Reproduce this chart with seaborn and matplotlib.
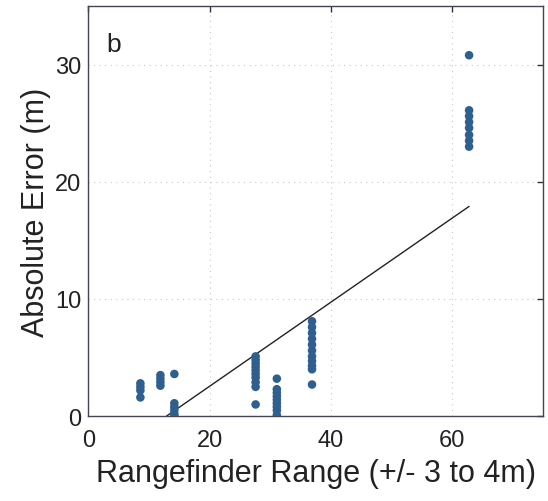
import numpy as np
import pandas as pd
import matplotlib
matplotlib.use('Agg')
import matplotlib.pyplot as plt
import seaborn as sns

# rangefinder range groups and absolute errors
x_8 = [8.6] * 4
y_8 = [2.8, 2.5, 2.2, 1.6]
x_12 = [11.9] * 4
y_12 = [3.5, 3.2, 2.9, 2.6]
x_14 = [14.2] * 6
y_14 = [3.6, 1.1, 0.8, 0.5, 0.2, 0.0]
x_28 = [27.6] * 10
y_28 = [5.1, 4.8, 4.5, 4.2, 3.9, 3.6, 3.3, 2.9, 2.5, 1.0]
x_31 = [31.1] * 9
y_31 = [3.2, 2.3, 2.0, 1.7, 1.4, 1.1, 0.8, 0.5, 0.1]
x_37 = [36.9] * 11
y_37 = [8.1, 7.6, 7.1, 6.6, 6.1, 5.6, 5.1, 4.7, 4.3, 4.0, 2.7]
x_63 = [62.8] * 8
y_63 = [30.8, 26.1, 25.6, 25.1, 24.6, 24.0, 23.5, 23.0]

# fitted line endpoints
line_x = [12.9, 62.8]
line_y = [0.0, 17.9]

df = pd.DataFrame({
    'range': x_8 + x_12 + x_14 + x_28 + x_31 + x_37 + x_63,
    'error': y_8 + y_12 + y_14 + y_28 + y_31 + y_37 + y_63,
})
df_line = pd.DataFrame({'range': line_x, 'error': line_y})

sns.set_style('white')
plt.rcParams['font.family'] = ['Liberation Sans', 'DejaVu Sans']

fig = plt.figure(figsize=(5.48, 5.02), dpi=100)
ax = fig.add_axes([0.161, 0.169, 0.830, 0.817])

sns.scatterplot(data=df, x='range', y='error', ax=ax, color='#2f5f8f',
                s=38, edgecolor='none', zorder=3)
sns.lineplot(data=df_line, x='range', y='error', ax=ax, color='#222222',
             linewidth=1.0, zorder=2)

ax.set_xlim(0, 75)
ax.set_ylim(0, 35)
ax.set_xticks([0, 20, 40, 60])
ax.set_yticks([0, 10, 20, 30])
ax.grid(True, linestyle=(0, (1, 4)), color='#c8c8c8', linewidth=0.8)
ax.tick_params(direction='in', length=4, width=1, top=True, right=True,
               labelsize=17, colors='#333333', labelcolor='#222222')
ax.tick_params(axis='x', pad=9)
ax.tick_params(axis='y', pad=5)
for sp in ax.spines.values():
    sp.set_color('#444455')
    sp.set_linewidth(1.0)

ax.set_xlabel('Rangefinder Range (+/- 3 to 4m)', fontsize=22, color='#222222', labelpad=5)
ax.set_ylabel('Absolute Error (m)', fontsize=22, color='#222222', labelpad=3)
ax.text(0.040, 0.907, 'b', transform=ax.transAxes, fontsize=19, color='#222222',
        va='center', ha='left')

fig.savefig('out.png', dpi=100)
